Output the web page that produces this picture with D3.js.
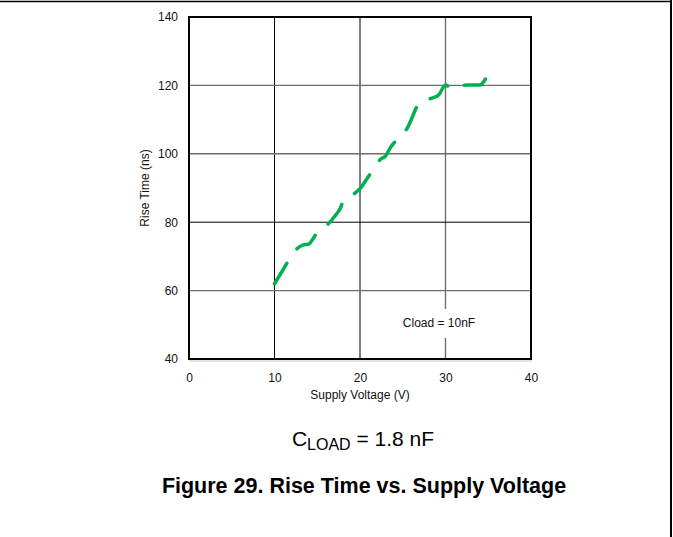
<!DOCTYPE html>
<html>
<head>
<meta charset="utf-8">
<script src="https://cdn.jsdelivr.net/npm/d3@7"></script>
<style>
  html, body { margin: 0; padding: 0; background: #fff; }
  svg { display: block; font-family: "Liberation Sans", Arial, sans-serif; }
</style>
</head>
<body>
<div id="chart"></div>
<script>
// values (Cload = 10nF)
const voltage = [10, 11, 12, 12.7, 13.3, 14, 15, 16, 17, 17.7, 18.1, 19, 20, 21, 21.5, 22.4, 23, 23.5, 24.3, 24.6, 25.5, 27, 28.3, 29.2, 30, 30.7, 31.5, 32.5, 34, 35];
const riseTime = [62, 66.1, 70.2, 72.4, 73.3, 73.6, 77, 78.8, 81.6, 84.1, 86.5, 87.8, 89.8, 93.4, 95.1, 98.4, 99.4, 101.6, 104, 104.6, 107.4, 115, 116.2, 117.2, 120.1, 119.2, 119.7, 120.1, 120.1, 123.5];

const xTicks = [0, 10, 20, 30, 40];
const yTicks = [40, 60, 80, 100, 120, 140];
// gridlines drawn in grey instead of black, as in the scan
const xGrey = [30];
const yGrey = [60, 100, 120];

const width = 673;
const height = 537;
const plot = { left: 189, right: 531, top: 17, bottom: 359 };

const svg = d3.select("#chart")
  .append("svg")
  .attr("width", width)
  .attr("height", height);

// page frame
svg.append("line")
  .attr("x1", 0).attr("x2", 671)
  .attr("y1", 1.5).attr("y2", 1.5)
  .attr("stroke", "#000").attr("stroke-width", 1.5);
svg.append("line")
  .attr("x1", 671).attr("x2", 671)
  .attr("y1", 0).attr("y2", height)
  .attr("stroke", "#000").attr("stroke-width", 2);

const x = d3.scaleLinear().domain([0, 40]).range([plot.left, plot.right]);
const y = d3.scaleLinear().domain([40, 140]).range([plot.bottom, plot.top]);

// gridlines
svg.append("g")
  .selectAll("line")
  .data(xTicks.slice(1, -1))
  .enter()
  .append("line")
  .attr("x1", d => x(d)).attr("x2", d => x(d))
  .attr("y1", plot.top).attr("y2", plot.bottom)
  .attr("stroke", d => xGrey.includes(d) ? "#6e6e6e" : "#000")
  .attr("stroke-width", d => xGrey.includes(d) ? 1.4 : 1);

svg.append("g")
  .selectAll("line")
  .data(yTicks.slice(1, -1))
  .enter()
  .append("line")
  .attr("x1", plot.left).attr("x2", plot.right)
  .attr("y1", d => y(d)).attr("y2", d => y(d))
  .attr("stroke", d => yGrey.includes(d) ? "#6e6e6e" : "#000")
  .attr("stroke-width", d => yGrey.includes(d) ? 1.4 : 1);

// label box that breaks the x=30 gridline
const note = svg.append("g");
note.append("rect")
  .attr("x", 400).attr("y", 309)
  .attr("width", 78).attr("height", 29)
  .attr("fill", "#fff");
note.append("text")
  .attr("x", 439).attr("y", 327)
  .attr("text-anchor", "middle")
  .attr("font-size", "12px")
  .attr("fill", "#111")
  .text("Cload = 10nF");

// curve
const line = d3.line()
  .x((d, i) => x(voltage[i]))
  .y(d => y(d))
  .curve(d3.curveMonotoneX);

svg.append("path")
  .datum(riseTime)
  .attr("d", line)
  .attr("fill", "none")
  .attr("stroke", "#00B050")
  .attr("stroke-width", 3.5)
  .attr("stroke-linecap", "round")
  .attr("stroke-dasharray", "24,17.5");

// plot border
svg.append("rect")
  .attr("x", plot.left).attr("y", plot.top)
  .attr("width", plot.right - plot.left)
  .attr("height", plot.bottom - plot.top)
  .attr("fill", "none")
  .attr("stroke", "#000")
  .attr("stroke-width", 2);
svg.append("line")
  .attr("x1", plot.left).attr("x2", plot.right + 1)
  .attr("y1", plot.bottom + 2).attr("y2", plot.bottom + 2)
  .attr("stroke", "#c8c8c8").attr("stroke-width", 1);

// axes, labels only
const xAxis = svg.append("g")
  .attr("transform", `translate(0,${plot.bottom})`)
  .call(d3.axisBottom(x).tickValues(xTicks).tickSize(0).tickPadding(14));
const yAxis = svg.append("g")
  .attr("transform", `translate(${plot.left},0)`)
  .call(d3.axisLeft(y).tickValues(yTicks).tickSize(0).tickPadding(11));

[xAxis, yAxis].forEach(a => {
  a.select(".domain").remove();
  a.selectAll("text")
    .attr("font-size", "12px")
    .attr("font-family", "\"Liberation Sans\", Arial, sans-serif")
    .attr("fill", "#111");
});

svg.append("text")
  .attr("x", 360).attr("y", 399)
  .attr("text-anchor", "middle")
  .attr("font-size", "12px")
  .attr("fill", "#111")
  .text("Supply Voltage (V)");

svg.append("text")
  .attr("transform", "translate(149,188) rotate(-90)")
  .attr("text-anchor", "middle")
  .attr("font-size", "12px")
  .attr("fill", "#111")
  .text("Rise Time (ns)");

// captions
const cload = svg.append("text")
  .attr("x", 363).attr("y", 446)
  .attr("text-anchor", "middle")
  .attr("font-size", "21px")
  .attr("fill", "#000");
cload.append("tspan").text("C");
cload.append("tspan").attr("font-size", "16px").attr("dy", 4).text("LOAD");
cload.append("tspan").attr("dy", -4).text(" = 1.8 nF");

svg.append("text")
  .attr("x", 364).attr("y", 493)
  .attr("text-anchor", "middle")
  .attr("font-size", "21.5px")
  .attr("font-weight", "bold")
  .attr("fill", "#000")
  .text("Figure 29. Rise Time vs. Supply Voltage");
</script>
</body>
</html>
